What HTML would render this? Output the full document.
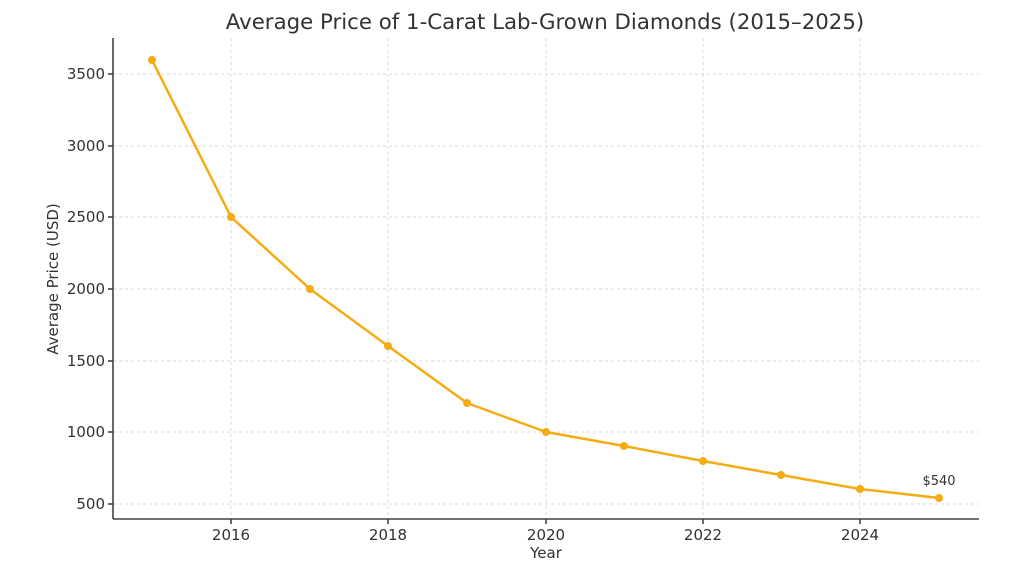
<!DOCTYPE html>
<html><head><meta charset="utf-8"><style>body{margin:0;background:#fff}</style></head>
<body>
<svg width="1024" height="576" xmlns="http://www.w3.org/2000/svg" font-family="DejaVu Sans, Liberation Sans, sans-serif" fill="#333">
<g stroke="#d8d8d8" stroke-width="1" stroke-dasharray="3,3">
<line x1="231" y1="38" x2="231" y2="519"/><line x1="388" y1="38" x2="388" y2="519"/>
<line x1="546" y1="38" x2="546" y2="519"/><line x1="703" y1="38" x2="703" y2="519"/>
<line x1="860" y1="38" x2="860" y2="519"/>
<line x1="113" y1="74" x2="979" y2="74"/><line x1="113" y1="146" x2="979" y2="146"/>
<line x1="113" y1="217" x2="979" y2="217"/><line x1="113" y1="289" x2="979" y2="289"/>
<line x1="113" y1="361" x2="979" y2="361"/><line x1="113" y1="432" x2="979" y2="432"/>
<line x1="113" y1="504" x2="979" y2="504"/>
</g>
<g stroke="#444" stroke-width="1.6">
<line x1="113" y1="38" x2="113" y2="519"/><line x1="113" y1="519" x2="979" y2="519"/>
<line x1="108" y1="74" x2="113" y2="74"/><line x1="108" y1="146" x2="113" y2="146"/>
<line x1="108" y1="217" x2="113" y2="217"/><line x1="108" y1="289" x2="113" y2="289"/>
<line x1="108" y1="361" x2="113" y2="361"/><line x1="108" y1="432" x2="113" y2="432"/>
<line x1="108" y1="504" x2="113" y2="504"/>
<line x1="231" y1="519" x2="231" y2="524"/><line x1="388" y1="519" x2="388" y2="524"/>
<line x1="546" y1="519" x2="546" y2="524"/><line x1="703" y1="519" x2="703" y2="524"/>
<line x1="860" y1="519" x2="860" y2="524"/>
</g>
<g font-size="15" text-anchor="end">
<text x="105" y="79">3500</text><text x="105" y="151">3000</text><text x="105" y="222">2500</text>
<text x="105" y="294">2000</text><text x="105" y="366">1500</text><text x="105" y="437">1000</text>
<text x="105" y="509">500</text>
</g>
<g font-size="15" text-anchor="middle">
<text x="231" y="540">2016</text><text x="388" y="540">2018</text><text x="546" y="540">2020</text>
<text x="703" y="540">2022</text><text x="860" y="540">2024</text>
<text x="546" y="558" font-size="15">Year</text>
<text x="545" y="29" font-size="21.3">Average Price of 1-Carat Lab-Grown Diamonds (2015–2025)</text>
<text transform="translate(58,279) rotate(-90)" font-size="15">Average Price (USD)</text>
<text x="939" y="485" font-size="13">$540</text>
</g>
<polyline fill="none" stroke="#f5ac12" stroke-width="2.5" stroke-linejoin="round" points="152,60 231,217 310,289 388,346 467,403 546,432 624,446 703,461 781,475 860,489 939,498"/>
<g fill="#f5ac12">
<circle cx="152" cy="60" r="4"/><circle cx="231" cy="217" r="4"/><circle cx="310" cy="289" r="4"/>
<circle cx="388" cy="346" r="4"/><circle cx="467" cy="403" r="4"/><circle cx="546" cy="432" r="4"/>
<circle cx="624" cy="446" r="4"/><circle cx="703" cy="461" r="4"/><circle cx="781" cy="475" r="4"/>
<circle cx="860" cy="489" r="4"/><circle cx="939" cy="498" r="4"/>
</g>
</svg>
</body></html>
